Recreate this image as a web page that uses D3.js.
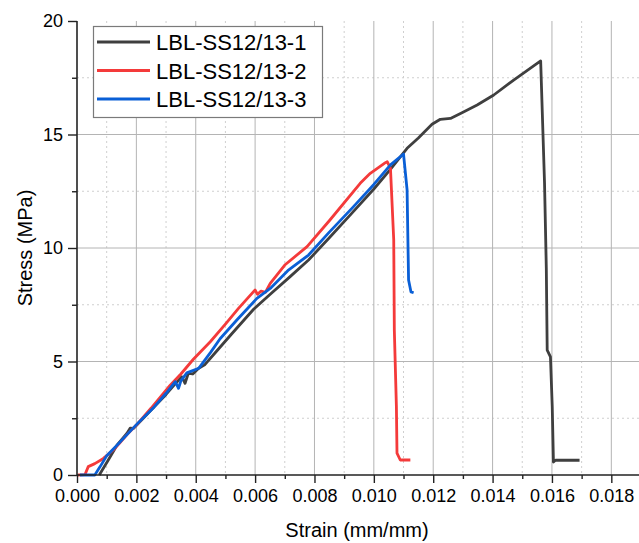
<!DOCTYPE html>
<html>
<head>
<meta charset="utf-8">
<script src="https://cdn.jsdelivr.net/npm/d3@7"></script>
<style>
	body { margin: 0; background: #fff; }
	text { font-family: "Liberation Sans", Arial, sans-serif; fill: #000; }
	.grid-major { stroke: #b4b4b4; stroke-width: 1; }
	.grid-minor { stroke: #cfcfcf; stroke-width: 1; stroke-dasharray: 2,3; }
	.curve { fill: none; stroke-width: 2.8; stroke-linejoin: round; }
</style>
</head>
<body>
<div id="vis"></div>
<script>
// series names + colours
var names = ['LBL-SS12/13-1', 'LBL-SS12/13-2', 'LBL-SS12/13-3'];
var colors = ['#3f3f3f', '#f43a3a', '#0a5fd6'];

// tick values
var xTicks = [0, 0.002, 0.004, 0.006, 0.008, 0.010, 0.012, 0.014, 0.016, 0.018];
var xMinor = [0.001, 0.003, 0.005, 0.007, 0.009, 0.011, 0.013, 0.015, 0.017];
var yTicks = [0, 5, 10, 15, 20];
var yMinor = [2.5, 7.5, 12.5, 17.5];

// [strain, stress]
var s1 = [[0.00075,0],[0.00105,0.65],[0.00134,1.3],[0.00168,1.83],[0.00179,2.06],[0.0019,2.05],
	[0.0022,2.45],[0.0026,3.0],[0.003,3.55],[0.0033,4.0],[0.00353,4.33],[0.00364,4.04],[0.00375,4.48],
	[0.0039,4.45],[0.0041,4.7],[0.0043,4.85],[0.0047,5.45],[0.0052,6.2],[0.00595,7.3],[0.0065,7.95],
	[0.00718,8.74],[0.0078,9.47],[0.0085,10.45],[0.0092,11.45],[0.0100,12.6],[0.01055,13.45],
	[0.01112,14.39],[0.0115,14.85],[0.01196,15.45],[0.01224,15.67],[0.01258,15.71],[0.01297,15.96],
	[0.01348,16.3],[0.01404,16.74],[0.01471,17.4],[0.01562,18.24],[0.01575,12.86],[0.01581,9.12],
	[0.01584,5.5],[0.01595,5.2],[0.01601,3.0],[0.01605,0.57],[0.01612,0.65],[0.01693,0.65]];

var s2 = [[0.00003,0],[0.00027,0.02],[0.00038,0.37],[0.0006,0.5],[0.00089,0.73],[0.00122,1.1],
	[0.0014,1.35],[0.0017,1.8],[0.002,2.2],[0.0025,2.95],[0.00314,3.96],[0.0035,4.45],[0.00392,5.1],
	[0.00449,5.87],[0.005,6.65],[0.00544,7.34],[0.006,8.15],[0.00608,7.96],[0.0062,8.1],[0.00635,8.05],
	[0.00651,8.44],[0.007,9.25],[0.00775,10.06],[0.0085,11.2],[0.00954,12.85],[0.00988,13.29],
	[0.01039,13.76],[0.01045,13.8],[0.01056,13.51],[0.01067,10.35],[0.01069,6.39],[0.01076,3.0],
	[0.01078,0.96],[0.01089,0.66],[0.01123,0.66]];

var s3 = [[0.0001,0],[0.0006,0],[0.00078,0.37],[0.001,0.85],[0.00134,1.3],[0.0017,1.8],[0.0021,2.35],
	[0.0026,3.0],[0.003,3.6],[0.00331,4.11],[0.00342,3.82],[0.0035,4.15],[0.0037,4.5],[0.0041,4.7],
	[0.0045,5.4],[0.00482,6.0],[0.0054,6.85],[0.00606,7.78],[0.00651,8.22],[0.0071,9.0],[0.0078,9.69],
	[0.0085,10.7],[0.0093,11.8],[0.01,12.8],[0.01056,13.66],[0.011,14.14],[0.01112,12.56],
	[0.01117,8.59],[0.01125,8.07],[0.01134,8.03]];

var series = [s1, s2, s3];

var width = 639, height = 543;
var svg = d3.select('#vis').append('svg')
	.attr('width', width)
	.attr('height', height);

var x = d3.scaleLinear().domain([0, 0.019]).range([77, 641]);
var y = d3.scaleLinear().domain([0, 20]).range([475, 21]);

// grid
svg.selectAll('.gx-minor').data(xMinor).enter().append('line')
	.attr('class', 'grid-minor')
	.attr('x1', function(d) { return x(d); }).attr('x2', function(d) { return x(d); })
	.attr('y1', y(20)).attr('y2', y(0));
svg.selectAll('.gy-minor').data(yMinor).enter().append('line')
	.attr('class', 'grid-minor')
	.attr('x1', x(0)).attr('x2', width)
	.attr('y1', function(d) { return y(d); }).attr('y2', function(d) { return y(d); });
svg.selectAll('.gx-major').data(xTicks.slice(1)).enter().append('line')
	.attr('class', 'grid-major')
	.attr('x1', function(d) { return x(d); }).attr('x2', function(d) { return x(d); })
	.attr('y1', y(20)).attr('y2', y(0));
svg.selectAll('.gy-major').data(yTicks.slice(1, 4)).enter().append('line')
	.attr('class', 'grid-major')
	.attr('x1', x(0)).attr('x2', width)
	.attr('y1', function(d) { return y(d); }).attr('y2', function(d) { return y(d); });

// curves
var line = d3.line()
	.x(function(d) { return x(d[0]); })
	.y(function(d) { return y(d[1]); });

series.forEach(function(s, i) {
	svg.append('path')
		.datum(s)
		.attr('class', 'curve')
		.attr('stroke', colors[i])
		.attr('d', line);
});

// axes
var xAxis = svg.append('g')
	.attr('transform', 'translate(0,' + y(0) + ')')
	.call(d3.axisBottom(x).tickValues(xTicks).tickSize(8).tickPadding(6)
		.tickFormat(d3.format('.3f')));
svg.append('g')
	.attr('transform', 'translate(0,' + y(0) + ')')
	.call(d3.axisBottom(x).tickValues(xMinor).tickSize(4).tickFormat(''))
	.select('.domain').remove();

var yAxis = svg.append('g')
	.attr('transform', 'translate(' + x(0) + ',0)')
	.call(d3.axisLeft(y).tickValues(yTicks).tickSize(9).tickPadding(5));
svg.append('g')
	.attr('transform', 'translate(' + x(0) + ',0)')
	.call(d3.axisLeft(y).tickValues(yMinor).tickSize(5).tickFormat(''))
	.select('.domain').remove();

svg.selectAll('.domain').attr('stroke', '#222').attr('stroke-width', 1.6);
svg.selectAll('.tick line').attr('stroke', '#222').attr('stroke-width', 1.4);
svg.selectAll('.tick text')
	.style('font-family', '"Liberation Sans", Arial, sans-serif')
	.style('font-size', '18px')
	.attr('fill', '#000');
xAxis.select('.domain').attr('d', 'M' + x(0) + ',0H' + width);
yAxis.select('.domain').attr('d', 'M0,' + y(0) + 'V' + y(20));

// axis titles
svg.append('text')
	.attr('x', 357)
	.attr('y', 537)
	.attr('text-anchor', 'middle')
	.style('font-size', '20px')
	.text('Strain (mm/mm)');
svg.append('text')
	.attr('transform', 'translate(32,248) rotate(-90)')
	.attr('text-anchor', 'middle')
	.style('font-size', '20px')
	.text('Stress (MPa)');

// legend
var legend = svg.append('g');
legend.append('rect')
	.attr('x', 93.5).attr('y', 26.5)
	.attr('width', 229).attr('height', 91)
	.attr('fill', '#fff')
	.attr('stroke', '#7a7a7a')
	.attr('stroke-width', 1.2);
names.forEach(function(n, i) {
	var ly = 42 + i * 28.5;
	legend.append('line')
		.attr('x1', 97).attr('x2', 150)
		.attr('y1', ly).attr('y2', ly)
		.attr('stroke', colors[i])
		.attr('stroke-width', 2.8);
	legend.append('text')
		.attr('x', 156)
		.attr('y', ly + 8)
		.style('font-size', '22px')
		.text(n);
});
</script>
</body>
</html>
